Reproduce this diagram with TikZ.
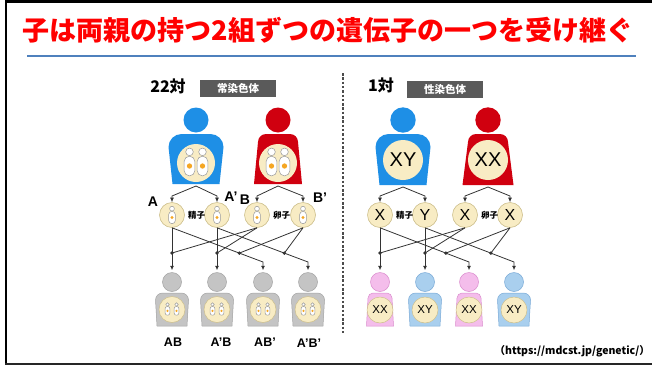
\documentclass[tikz,border=0pt]{standalone}
\usepackage{fontspec}
\setmainfont{Liberation Sans}
\newfontfamily\jp{Noto Sans CJK JP}
\usetikzlibrary{arrows.meta,calc,positioning}

\definecolor{titlered}{HTML}{FF0000}
\definecolor{ruleblue}{HTML}{4F81BD}
\definecolor{dadblue}{HTML}{1E8FE6}
\definecolor{momred}{HTML}{D0000F}
\definecolor{cream}{HTML}{F8ECC4}
\definecolor{creamline}{HTML}{CDBF8C}
\definecolor{chromline}{HTML}{9A9A9A}
\definecolor{dotorange}{HTML}{F5A623}
\definecolor{kidgray}{HTML}{C4C4C4}
\definecolor{kidgrayline}{HTML}{A2A2A2}
\definecolor{kidpink}{HTML}{F4BDEB}
\definecolor{kidpinkline}{HTML}{D98ACC}
\definecolor{kidblue}{HTML}{A9CFEE}
\definecolor{kidblueline}{HTML}{78A9D6}
\definecolor{tagfill}{HTML}{5A5A5A}
\definecolor{wire}{HTML}{333333}

%% body outline: centre x, top, bottom, shoulder half width, foot half width, shoulder radius
\newcommand{\bodyline}[6]{({#1-#5},#3) -- ({#1-#4},{#2+#6})
  .. controls ({#1-#4},{#2+0.45*#6}) and ({#1-#4+0.45*#6},#2) .. ({#1-#4+#6},#2)
  -- ({#1+#4-#6},#2)
  .. controls ({#1+#4-0.45*#6},#2) and ({#1+#4},{#2+0.45*#6}) .. ({#1+#4},{#2+#6})
  -- ({#1+#5},#3) -- cycle}

%% one chromosome: x, y, scale
\newcommand{\chromo}[3]{%
  \draw[chromline, fill=white, line width=0.5pt] (#1,{#2-#3*8.8}) circle ({#3*3.3pt});
  \draw[chromline, fill=white, line width=0.5pt, rounded corners={#3*4.4pt}]
    ({#1-#3*4.6},{#2-#3*5}) rectangle ({#1+#3*4.6},{#2+#3*12});
  \fill[dotorange] (#1,{#2+#3*3.5}) circle ({#3*2.3pt});}

\tikzset{
  heading/.style={text=titlered, inner sep=0pt, font=\jp\bfseries\fontsize{27}{30}\selectfont},
  pairs/.style={inner sep=0pt, font=\jp\bfseries\fontsize{16}{18}\selectfont},
  tag/.style={fill=tagfill, text=white, minimum width=76pt, minimum height=17pt, inner sep=0pt,
    font=\jp\bfseries\fontsize{10.5}{12}\selectfont},
  gamete/.style={circle, draw=creamline, fill=cream, line width=0.6pt, minimum size=25pt,
    inner sep=0pt, font=\fontsize{16}{16}\selectfont},
  bigcell/.style={circle, fill=cream, minimum size=40pt, inner sep=0pt, font=\fontsize{20}{20}\selectfont},
  kidcell/.style={circle, draw=creamline, fill=cream, line width=0.5pt, minimum size=26pt,
    inner sep=0pt, font=\fontsize{11.5}{12}\selectfont},
  allele/.style={inner sep=0pt, font=\bfseries\fontsize{14}{14}\selectfont},
  cell/.style={inner sep=0pt, font=\jp\bfseries\fontsize{8.5}{8.5}\selectfont},
  kid/.style={inner sep=0pt, font=\bfseries\fontsize{12.5}{12.5}\selectfont},
  src/.style={inner sep=0pt, font=\jp\bfseries\fontsize{10.5}{12}\selectfont},
  wire/.style={draw=wire, line width=0.8pt},
  tip/.style={-{Latex[length=4.5pt,width=4pt]}},
  joint/.style={circle, fill=wire, inner sep=0pt, minimum size=3.6pt},
  grayhead/.style={circle, fill=kidgray, draw=kidgrayline, line width=0.5pt, minimum size=19pt, inner sep=0pt},
  pinkhead/.style={circle, fill=kidpink, draw=kidpinkline, line width=0.5pt, minimum size=19pt, inner sep=0pt},
  bluehead/.style={circle, fill=kidblue, draw=kidblueline, line width=0.5pt, minimum size=19pt, inner sep=0pt},
  divider/.style={draw=black!70, line width=1.6pt, dash pattern=on 2.5pt off 1.8pt},
}

\begin{document}
\begin{tikzpicture}[x=1pt,y=-1pt]
\useasboundingbox (0,0) rectangle (652,367);

%% frame
\draw[line width=2.7pt] (5,1.4) -- (652,1.4);
\draw[line width=2.5pt] (6.2,0) -- (6.2,364.5);
\draw[line width=1.8pt, black!85] (5,363.6) -- (652,363.6);

%% heading
\node[heading] (title) at (328,30) {子は両親の持つ2組ずつの遺伝子の一つを受け継ぐ};
\draw[ruleblue, line width=1.3pt] (27,56) -- (636,56);

%% divider
\draw[divider] (343,73) -- (343,333);

%%%%%%%%%%%%%%%% autosomes
\node[pairs] (nL) at (168,86) {22対};
\node[tag] (tL) at (238,88.5) {常染色体};

%% father
\fill[dadblue] (196,120) circle (12.5pt);
\fill[dadblue] \bodyline{196}{134}{184}{27.5}{23.5}{13};
\fill[cream] (196,163) circle (19pt);
\chromo{189.5}{162}{1.15}
\chromo{202.5}{162}{1.15}

%% mother
\fill[momred] (278,120) circle (12.5pt);
\fill[momred] \bodyline{278}{134}{184}{20}{24}{8};
\fill[cream] (278,163) circle (19pt);
\chromo{271.5}{162}{1.15}
\chromo{284.5}{162}{1.15}

%% gametes
\node[gamete] (gA)  at (172,215) {};
\node[gamete] (gA2) at (217,215) {};
\node[gamete] (gB)  at (257,215) {};
\node[gamete] (gB2) at (303,215) {};
\chromo{172}{215}{0.72}
\chromo{217}{215}{0.72}
\chromo{257}{215}{0.72}
\chromo{303}{215}{0.72}

\node[allele] (lA)  at ($(gA)+(-19,-13)$)  {A};
\node[allele] (lA2) at ($(gA2)+(14,-18)$)  {A’};
\node[allele] (lB)  at ($(gB)+(-12,-15)$)  {B};
\node[allele] (lB2) at ($(gB2)+(17,-17)$)  {B’};
\node[cell, right=3pt of gA] (spL) {精子};
\node[cell, right=3pt of gB] (egL) {卵子};

%% parents to gametes
\coordinate (dadL) at (196,186);
\coordinate (momL) at (278,186);
\draw[wire, tip] (dadL) -- (gA.north |- 0,196) -- (gA.north);
\draw[wire, tip] (dadL) -- (gA2.north |- 0,196) -- (gA2.north);
\draw[wire, tip] (momL) -- (gB.north |- 0,196) -- (gB.north);
\draw[wire, tip] (momL) -- (gB2.north |- 0,196) -- (gB2.north);

%% children
\fill[kidgray, draw=kidgrayline, line width=0.5pt] \bodyline{172}{293}{326}{16.5}{15}{7};
\fill[kidgray, draw=kidgrayline, line width=0.5pt] \bodyline{217}{293}{326}{16.5}{15}{7};
\fill[kidgray, draw=kidgrayline, line width=0.5pt] \bodyline{263}{293}{326}{16.5}{15}{7};
\fill[kidgray, draw=kidgrayline, line width=0.5pt] \bodyline{308}{293}{326}{16.5}{15}{7};
\node[grayhead] (k1) at (172,282) {};
\node[grayhead] (k2) at (217,282) {};
\node[grayhead] (k3) at (263,282) {};
\node[grayhead] (k4) at (308,282) {};
\node[kidcell] (c1) at (172,309.5) {};
\node[kidcell] (c2) at (217,309.5) {};
\node[kidcell] (c3) at (263,309.5) {};
\node[kidcell] (c4) at (308,309.5) {};
\chromo{167.5}{309}{0.52} \chromo{176.5}{309}{0.52}
\chromo{212.5}{309}{0.52} \chromo{221.5}{309}{0.52}
\chromo{258.5}{309}{0.52} \chromo{267.5}{309}{0.52}
\chromo{303.5}{309}{0.52} \chromo{312.5}{309}{0.52}

\node[kid] (n1) at (173,342) {AB};
\node[kid] (n2) at (221,342) {A’B};
\node[kid] (n3) at (265,342) {AB’};
\node[kid] (n4) at (309,343) {A’B’};

%% crossing
\coordinate (j1) at (gA.south |- 0,253);
\coordinate (j2) at (gA2.south |- 0,253);
\coordinate (b3) at (k3.north |- 0,262);
\coordinate (b4) at (k4.north |- 0,262);
\coordinate (j3) at ($(gA.south)!0.74!(b3)$);
\coordinate (j4) at ($(gA2.south)!0.74!(b4)$);
\draw[wire, tip, shorten >=2pt] (gA.south) -- (k1.north);
\draw[wire, tip, shorten >=2pt] (gA2.south) -- (k2.north);
\draw[wire, tip, shorten >=2pt] (gA.south) -- (b3) -- (k3.north);
\draw[wire, tip, shorten >=2pt] (gA2.south) -- (b4) -- (k4.north);
\draw[wire] (gB.south) -- (j1);
\draw[wire] (gB.south) -- (j2);
\draw[wire] (gB2.south) -- (j3);
\draw[wire] (gB2.south) -- (j4);
\node[joint] (p1) at (j1) {};
\node[joint] (p2) at (j2) {};
\node[joint] (p3) at (j3) {};
\node[joint] (p4) at (j4) {};

%%%%%%%%%%%%%%%% sex chromosomes
\node[pairs] (nR) at (381,85) {1対};
\node[tag] (tR) at (445,89) {性染色体};

%% father
\fill[dadblue] (403,120) circle (12.7pt);
\fill[dadblue] \bodyline{403}{134}{185}{27.5}{23.5}{13};
\node[bigcell] (cD) at (403,160) {XY};

%% mother
\fill[momred] (488,120) circle (12.7pt);
\fill[momred] \bodyline{488}{134}{185}{20}{25.5}{8};
\node[bigcell] (cM) at (488,160) {XX};

%% gametes
\node[gamete] (gX)  at (380,215) {X};
\node[gamete] (gY)  at (425,215) {Y};
\node[gamete] (gX2) at (465,215) {X};
\node[gamete] (gX3) at (510,215) {X};
\node[cell, right=3pt of gX] (spR) {精子};
\node[cell, right=3pt of gX2] (egR) {卵子};

%% parents to gametes
\coordinate (dadR) at (403,187);
\coordinate (momR) at (488,187);
\draw[wire, tip] (dadR) -- (gX.north |- 0,196) -- (gX.north);
\draw[wire, tip] (dadR) -- (gY.north |- 0,196) -- (gY.north);
\draw[wire, tip] (momR) -- (gX2.north |- 0,196) -- (gX2.north);
\draw[wire, tip] (momR) -- (gX3.north |- 0,196) -- (gX3.north);

%% children
\fill[kidpink, draw=kidpinkline, line width=0.5pt] \bodyline{380}{293}{326}{12}{13.5}{5};
\fill[kidblue, draw=kidblueline, line width=0.5pt] \bodyline{425}{293}{326}{16.5}{15}{7};
\fill[kidpink, draw=kidpinkline, line width=0.5pt] \bodyline{469}{293}{326}{12}{13.5}{5};
\fill[kidblue, draw=kidblueline, line width=0.5pt] \bodyline{514}{293}{326}{16.5}{15}{7};
\node[pinkhead] (k5) at (380,282) {};
\node[bluehead] (k6) at (425,282) {};
\node[pinkhead] (k7) at (469,282) {};
\node[bluehead] (k8) at (514,282) {};
\node[kidcell] (c5) at (380,310) {XX};
\node[kidcell] (c6) at (425,310) {XY};
\node[kidcell] (c7) at (469,310) {XX};
\node[kidcell] (c8) at (514,310) {XY};

%% crossing
\coordinate (j5) at (gX.south |- 0,253);
\coordinate (j6) at (gY.south |- 0,253);
\coordinate (b7) at (k7.north |- 0,262);
\coordinate (b8) at (k8.north |- 0,262);
\coordinate (j7) at ($(gX.south)!0.74!(b7)$);
\coordinate (j8) at ($(gY.south)!0.74!(b8)$);
\draw[wire, tip, shorten >=2pt] (gX.south) -- (k5.north);
\draw[wire, tip, shorten >=2pt] (gY.south) -- (k6.north);
\draw[wire, tip, shorten >=2pt] (gX.south) -- (b7) -- (k7.north);
\draw[wire, tip, shorten >=2pt] (gY.south) -- (b8) -- (k8.north);
\draw[wire] (gX2.south) -- (j5);
\draw[wire] (gX2.south) -- (j6);
\draw[wire] (gX3.south) -- (j7);
\draw[wire] (gX3.south) -- (j8);
\node[joint] (p5) at (j5) {};
\node[joint] (p6) at (j6) {};
\node[joint] (p7) at (j7) {};
\node[joint] (p8) at (j8) {};

%% source
\node[src, anchor=east] (url) at (650,351) {（https://mdcst.jp/genetic/）};

\end{tikzpicture}
\end{document}
